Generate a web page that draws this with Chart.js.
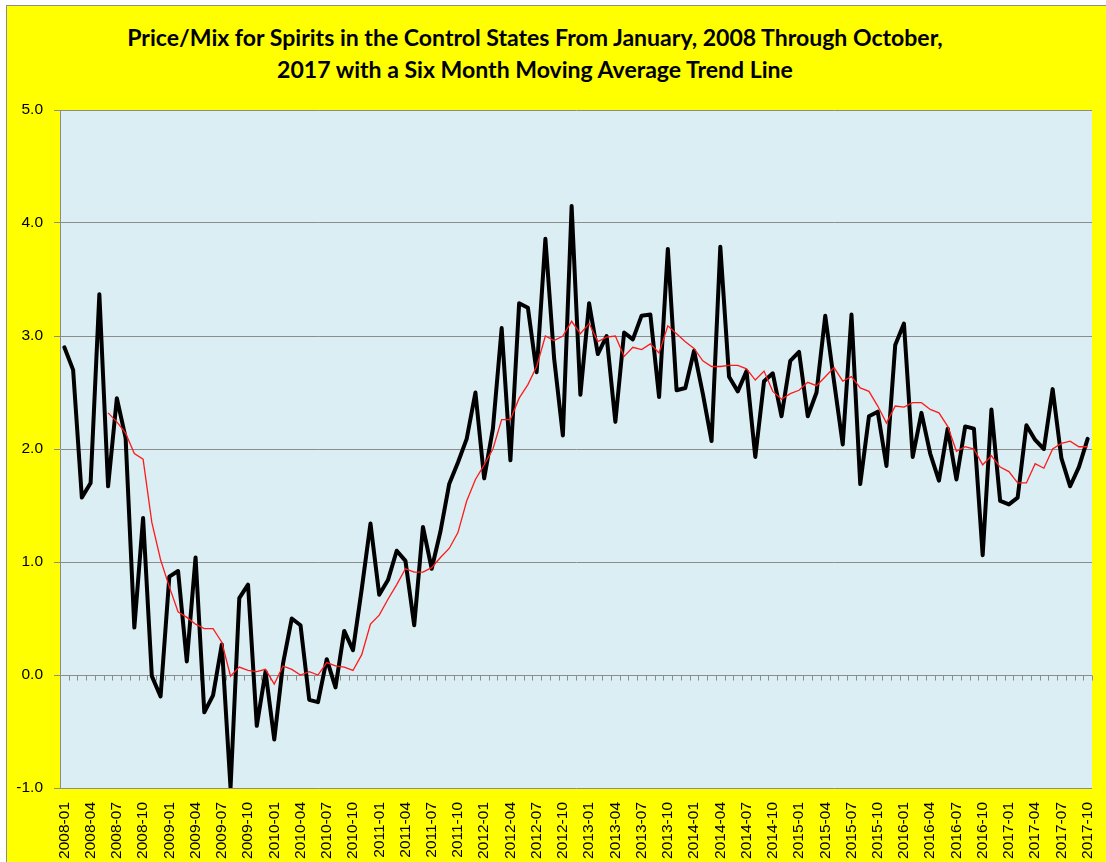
<!DOCTYPE html>
<html>
<head>
<meta charset="utf-8">
<script src="https://cdn.jsdelivr.net/npm/chart.js@4.4.1/dist/chart.umd.min.js"></script>
<style>
html,body{margin:0;padding:0;background:#ffffff;width:1106px;height:862px;overflow:hidden;}
#frame{position:absolute;left:6px;top:5px;width:1120px;height:880px;background:#ffff00;border:1px solid #8c8c8c;}
#c{position:absolute;left:0;top:0;}
.tl{position:absolute;left:0;width:1070px;text-align:center;font-family:Lato,"Open Sans",sans-serif;font-weight:bold;color:#000;line-height:32px;white-space:nowrap;}
</style>
</head>
<body>
<div id="frame"></div>
<div class="tl" id="t1" style="top:21px;">Price/Mix for Spirits in the Control States From January, 2008 Through October,</div>
<div class="tl" id="t2" style="top:53px;">2017 with a Six Month Moving Average Trend Line</div>
<canvas id="c" width="1106" height="862"></canvas>
<script>
// ---- data ----
const years = [2008, 2009, 2010, 2011, 2012, 2013, 2014, 2015, 2016, 2017];
const lastMonth2017 = 10;
const months = [];
years.forEach(y => {
  const m = (y === 2017) ? lastMonth2017 : 12;
  for (let i = 1; i <= m; i++) months.push(y + '-' + (i < 10 ? '0' + i : i));
});

const priceMix = [
  2.90, 2.70, 1.57, 1.70, 3.37, 1.67, 2.45, 2.10, 0.42, 1.39, -0.01, -0.19,
  0.87, 0.92, 0.12, 1.04, -0.33, -0.18, 0.27, -1.00, 0.68, 0.80, -0.45, 0.03,
  -0.57, 0.10, 0.50, 0.44, -0.22, -0.24, 0.14, -0.11, 0.39, 0.22, 0.76, 1.34,
  0.71, 0.84, 1.10, 1.01, 0.44, 1.31, 0.94, 1.27, 1.69, 1.88, 2.09, 2.50,
  1.74, 2.18, 3.07, 1.90, 3.29, 3.25, 2.68, 3.86, 2.80, 2.12, 4.15, 2.48,
  3.29, 2.84, 3.00, 2.24, 3.03, 2.97, 3.18, 3.19, 2.46, 3.77, 2.52, 2.54,
  2.87, 2.49, 2.07, 3.79, 2.64, 2.51, 2.69, 1.93, 2.60, 2.67, 2.29, 2.78,
  2.86, 2.29, 2.50, 3.18, 2.60, 2.04, 3.19, 1.69, 2.29, 2.33, 1.85, 2.92,
  3.11, 1.93, 2.32, 1.96, 1.72, 2.18, 1.73, 2.20, 2.18, 1.06, 2.35, 1.54,
  1.51, 1.57, 2.21, 2.08, 2.00, 2.53, 1.92, 1.67, 1.84, 2.09
];

const movingAvg = [
  null, null, null, null, null, 2.32, 2.24, 2.14, 1.96, 1.91, 1.35, 1.02,
  0.78, 0.56, 0.51, 0.45, 0.41, 0.41, 0.29, -0.01, 0.07, 0.04, 0.03, 0.05,
  -0.08, 0.08, 0.05, 0.00, 0.03, 0.00, 0.11, 0.08, 0.07, 0.04, 0.18, 0.45,
  0.53, 0.67, 0.80, 0.94, 0.91, 0.91, 0.95, 1.04, 1.12, 1.26, 1.54, 1.73,
  1.86, 2.00, 2.26, 2.26, 2.45, 2.57, 2.73, 3.00, 2.96, 3.00, 3.13, 3.02,
  3.11, 2.95, 2.99, 3.00, 2.82, 2.90, 2.88, 2.93, 2.85, 3.09, 3.02, 2.95,
  2.89, 2.78, 2.73, 2.73, 2.74, 2.74, 2.71, 2.61, 2.69, 2.51, 2.44, 2.49,
  2.52, 2.59, 2.56, 2.64, 2.72, 2.60, 2.64, 2.54, 2.51, 2.38, 2.23, 2.38,
  2.37, 2.41, 2.41, 2.35, 2.32, 2.20, 1.98, 2.02, 2.00, 1.86, 1.94, 1.84,
  1.80, 1.70, 1.70, 1.87, 1.83, 2.00, 2.05, 2.07, 2.02, 2.02
];

const yTicks = { min: -1, max: 5, step: 1 };
const labelEvery = 3;

// ---- title sizing ----
(function () {
  const cv = document.createElement('canvas').getContext('2d');
  cv.font = 'bold 100px Lato';
  const w = cv.measureText(document.getElementById('t1').textContent).width;
  const size = 100 * 818 / w;
  document.getElementById('t1').style.fontSize = size + 'px';
  document.getElementById('t2').style.fontSize = size + 'px';
})();

// ---- plugins ----
const plotBg = {
  id: 'plotBg',
  beforeDraw(chart) {
    const a = chart.chartArea, c = chart.ctx;
    c.save();
    c.fillStyle = '#DAEEF3';
    c.fillRect(a.left, a.top, a.right - a.left, a.bottom - a.top);
    c.restore();
  }
};
const zeroTicks = {
  id: 'zeroTicks',
  beforeDatasetsDraw(chart) {
    const xs = chart.scales.x, ys = chart.scales.y, c = chart.ctx;
    const y0 = Math.round(ys.getPixelForValue(0)) + 0.5;
    const step = xs.getPixelForValue(1) - xs.getPixelForValue(0);
    c.save();
    c.strokeStyle = '#8c8c8c';
    c.lineWidth = 1;
    c.beginPath();
    for (let i = 0; i <= months.length; i++) {
      const x = Math.round(xs.getPixelForValue(0) - step / 2 + i * step) + 0.5;
      c.moveTo(x, y0);
      c.lineTo(x, y0 + 5);
    }
    c.stroke();
    c.restore();
  }
};

new Chart(document.getElementById('c'), {
  type: 'line',
  data: {
    labels: months,
    datasets: [
      { label: 'Six Month Moving Average', data: movingAvg, borderColor: '#ff1a1a', borderWidth: 1.3,
        pointRadius: 0, tension: 0, order: 0, fill: false },
      { label: 'Price/Mix', data: priceMix, borderColor: '#000000', borderWidth: 4,
        pointRadius: 0, tension: 0, order: 1, fill: false, borderJoinStyle: 'round', borderCapStyle: 'round' }
    ]
  },
  options: {
    responsive: false,
    animation: false,
    devicePixelRatio: 1,
    layout: { padding: { top: 110, right: 0, left: 0, bottom: 0 } },
    plugins: { legend: { display: false }, tooltip: { enabled: false }, title: { display: false } },
    scales: {
      x: {
        type: 'category',
        offset: true,
        grid: { display: false, drawTicks: false, offset: true },
        border: { display: false },
        ticks: {
          autoSkip: false, minRotation: 90, maxRotation: 90, padding: 14,
          color: '#000', font: { family: 'Liberation Sans', size: 15.5 },
          callback: function (v, i) { return i % labelEvery === 0 ? this.getLabelForValue(v) : ''; }
        },
        afterFit(s) { s.height = 74; s.paddingRight = 14; }
      },
      y: {
        min: yTicks.min, max: yTicks.max,
        ticks: { stepSize: yTicks.step, padding: 11, color: '#000',
          font: { family: 'Liberation Sans', size: 15.5 },
          callback: v => Number(v).toFixed(1) },
        grid: { color: '#8c8c8c', lineWidth: 1, tickLength: 6, drawTicks: true },
        border: { display: true, color: '#8c8c8c' },
        afterFit(s) { s.width = 60; }
      }
    }
  },
  plugins: [plotBg, zeroTicks]
});
</script>
</body>
</html>
